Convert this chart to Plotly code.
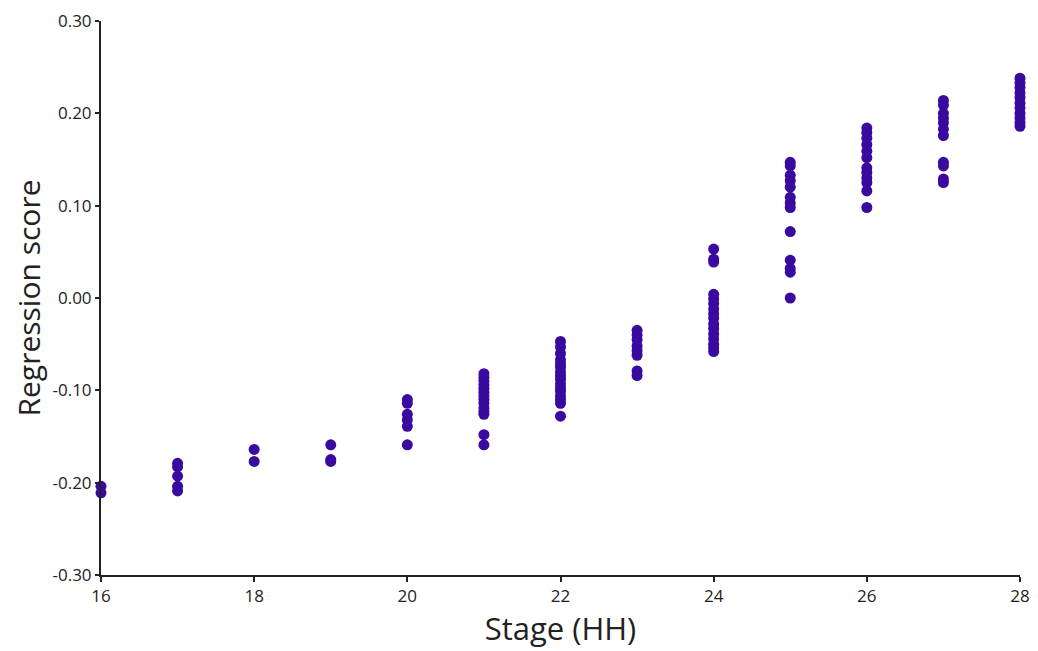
import plotly.graph_objects as go

# Regression score values per HH stage
stage_16 = [-0.204, -0.211]
stage_17 = [-0.179, -0.183, -0.193, -0.204, -0.209]
stage_18 = [-0.164, -0.177]
stage_19 = [-0.159, -0.175, -0.177]
stage_20 = [-0.110, -0.114, -0.126, -0.132, -0.139, -0.159]
stage_21 = [-0.082, -0.086, -0.090, -0.094, -0.098, -0.102, -0.106, -0.110,
            -0.114, -0.119, -0.123, -0.126, -0.148, -0.159]
stage_22 = [-0.047, -0.053, -0.060, -0.067, -0.071, -0.075, -0.080, -0.084,
            -0.088, -0.093, -0.097, -0.101, -0.106, -0.110, -0.114, -0.128]
stage_23 = [-0.035, -0.040, -0.045, -0.052, -0.057, -0.062, -0.079, -0.084]
stage_24 = [0.053, 0.042, 0.039, 0.004, -0.001, -0.006, -0.012, -0.017, -0.022,
            -0.028, -0.033, -0.039, -0.044, -0.050, -0.054, -0.058]
stage_25 = [0.147, 0.143, 0.133, 0.127, 0.120, 0.109, 0.103, 0.098, 0.072,
            0.041, 0.032, 0.028, 0.000]
stage_26 = [0.184, 0.179, 0.173, 0.166, 0.159, 0.152, 0.141, 0.136, 0.130,
            0.125, 0.116, 0.098]
stage_27 = [0.214, 0.209, 0.200, 0.195, 0.190, 0.183, 0.176, 0.147, 0.143,
            0.129, 0.125]
stage_28 = [0.238, 0.233, 0.228, 0.222, 0.217, 0.211, 0.206, 0.200, 0.195,
            0.190, 0.186]

stages = [16, 17, 18, 19, 20, 21, 22, 23, 24, 25, 26, 27, 28]
scores = [stage_16, stage_17, stage_18, stage_19, stage_20, stage_21, stage_22,
          stage_23, stage_24, stage_25, stage_26, stage_27, stage_28]

x_tick_vals = [16, 18, 20, 22, 24, 26, 28]
x_tick_text = ["16", "18", "20", "22", "24", "26", "28"]
y_tick_vals = [-0.30, -0.20, -0.10, 0.00, 0.10, 0.20, 0.30]
y_tick_text = ["-0.30", "-0.20", "-0.10", "0.00", "0.10", "0.20", "0.30"]

xs, ys = [], []
for s, vals in zip(stages, scores):
    for v in vals:
        xs.append(s)
        ys.append(v)

font_family = "Open Sans, Noto Sans, sans-serif"
ink = "#222222"

fig = go.Figure(go.Scatter(
    x=xs, y=ys, mode="markers",
    marker=dict(color="#3a0aa0", size=11, line=dict(width=0)),
    cliponaxis=False, showlegend=False,
))

fig.update_layout(
    width=1038, height=651,
    margin=dict(l=93, r=26, t=13, b=84),
    paper_bgcolor="white", plot_bgcolor="white",
    font=dict(family=font_family, color=ink),
    xaxis=dict(
        range=[16, 28], tickvals=x_tick_vals, ticktext=x_tick_text,
        showgrid=False, zeroline=False, showline=True, linecolor=ink,
        linewidth=2, ticks="outside", ticklen=5, tickwidth=2, tickcolor=ink,
        tickfont=dict(size=17, family=font_family, color=ink),
        automargin=False, ticklabeloverflow="allow",
        title=dict(text="Stage (HH)", font=dict(size=31, family=font_family, color=ink),
                   standoff=12),
    ),
    yaxis=dict(
        range=[-0.30, 0.30], tickvals=y_tick_vals, ticktext=y_tick_text,
        showgrid=False, zeroline=False, showline=True, linecolor=ink,
        linewidth=2, ticks="outside", ticklen=4, tickwidth=2, tickcolor=ink,
        tickfont=dict(size=17, family=font_family, color=ink),
        automargin=False, ticklabeloverflow="allow",
        title=dict(text="Regression score", font=dict(size=30, family=font_family, color=ink),
                   standoff=18),
    ),
)

fig.write_html("out.html")
